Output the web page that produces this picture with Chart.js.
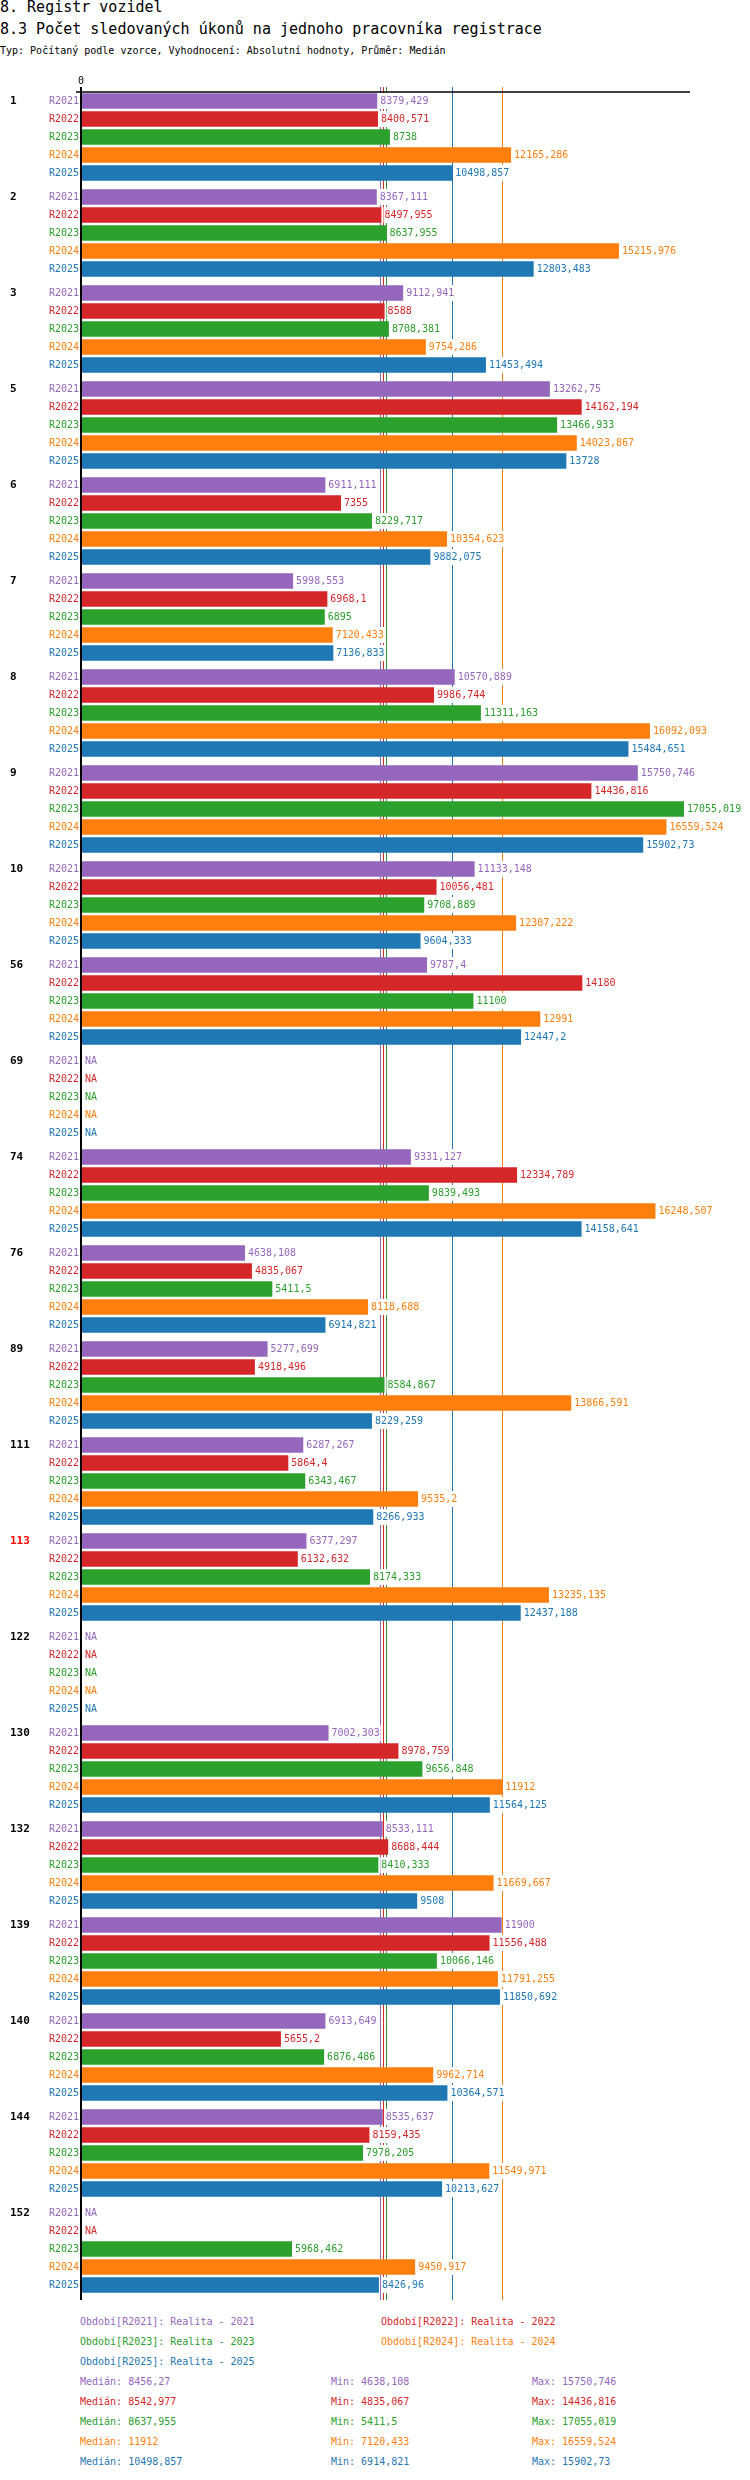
<!DOCTYPE html>
<html>
<head>
<meta charset="utf-8">
<script src="https://cdn.jsdelivr.net/npm/chart.js@4.4.1/dist/chart.umd.min.js"></script>
<style>
  body { margin: 0; background: #fff; font-family: "DejaVu Sans Mono", monospace; }
  .t { position: absolute; white-space: pre; color: #000; }
  .h1 { font-size: 15px; line-height: 15px; left: 0; }
  .sub { font-size: 10px; line-height: 12px; left: 0; }
  .leg { position: absolute; font-size: 10px; line-height: 12px; white-space: pre; }
  #wrap { position: absolute; left: 0; top: 0; width: 750px; height: 2310px; }
</style>
</head>
<body>
<div class="t h1" style="top:0px">8. Registr vozidel</div>
<div class="t h1" style="top:22px">8.3 Počet sledovaných úkonů na jednoho pracovníka registrace</div>
<div class="t sub" style="top:45px">Typ: Počítaný podle vzorce, Vyhodnocení: Absolutní hodnoty, Průměr: Medián</div>
<div id="wrap"><canvas id="chart"></canvas></div>
<div id="legend"></div>
<script>
// groups (categories) and periods
const groups = ["1", "2", "3", "5", "6", "7", "8", "9", "10", "56", "69", "74", "76", "89", "111", "113", "122", "130", "132", "139", "140", "144", "152"];
const periods = ["R2021", "R2022", "R2023", "R2024", "R2025"];
const colors = ["#9467bd", "#d62728", "#2ca02c", "#ff7f0e", "#1f77b4"];

const r2021 = [8379.429, 8367.111, 9112.941, 13262.75, 6911.111, 5998.553, 10570.889, 15750.746, 11133.148, 9787.4, null, 9331.127, 4638.108, 5277.699, 6287.267, 6377.297, null, 7002.303, 8533.111, 11900, 6913.649, 8535.637, null];
const r2022 = [8400.571, 8497.955, 8588, 14162.194, 7355, 6968.1, 9986.744, 14436.816, 10056.481, 14180, null, 12334.789, 4835.067, 4918.496, 5864.4, 6132.632, null, 8978.759, 8688.444, 11556.488, 5655.2, 8159.435, null];
const r2023 = [8738, 8637.955, 8708.381, 13466.933, 8229.717, 6895, 11311.163, 17055.019, 9708.889, 11100, null, 9839.493, 5411.5, 8584.867, 6343.467, 8174.333, null, 9656.848, 8410.333, 10066.146, 6876.486, 7978.205, 5968.462];
const r2024 = [12165.286, 15215.976, 9754.286, 14023.867, 10354.623, 7120.433, 16092.093, 16559.524, 12307.222, 12991, null, 16248.507, 8118.688, 13866.591, 9535.2, 13235.135, null, 11912, 11669.667, 11791.255, 9962.714, 11549.971, 9450.917];
const r2025 = [10498.857, 12803.483, 11453.494, 13728, 9882.075, 7136.833, 15484.651, 15902.73, 9604.333, 12447.2, null, 14158.641, 6914.821, 8229.259, 8266.933, 12437.188, null, 11564.125, 9508, 11850.692, 10364.571, 10213.627, 8426.96];

// summary values as printed under the chart
const medians = [8456.27, 8542.977, 8637.955, 11912, 10498.857];
const mins = [4638.108, 4835.067, 5411.5, 7120.433, 6914.821];
const maxs = [15750.746, 14436.816, 17055.019, 16559.524, 15902.73];

const highlighted = ["113"];

const series = [r2021, r2022, r2023, r2024, r2025];
const fmt = v => String(v).replace(".", ",");
const FONT = '"DejaVu Sans Mono", monospace';
// bars sit flush under the top axis, so the frame is drawn a bit outside the category band
const EDGE = 3;

const overlay = {
  id: "overlay",
  beforeDatasetsDraw(chart) {
    const ctx = chart.ctx, a = chart.chartArea, x = chart.scales.x;
    ctx.save();
    ctx.lineWidth = 1;
    medians.forEach((m, i) => {
      const px = Math.round(x.getPixelForValue(m)) + 0.5;
      ctx.strokeStyle = colors[i];
      ctx.beginPath();
      ctx.moveTo(px, a.top + EDGE - 5);
      ctx.lineTo(px, a.bottom + EDGE);
      ctx.stroke();
    });
    ctx.restore();
  },
  afterDatasetsDraw(chart) {
    const ctx = chart.ctx, a = chart.chartArea, x = chart.scales.x;
    const x0 = x.getPixelForValue(0);
    ctx.save();
    ctx.textBaseline = "middle";
    series.forEach((data, i) => {
      const meta = chart.getDatasetMeta(i);
      meta.data.forEach((el, j) => {
        const y = el.y;
        ctx.font = "10px " + FONT;
        ctx.fillStyle = colors[i];
        ctx.textAlign = "right";
        ctx.fillText(periods[i], x0 - 2, y);
        ctx.textAlign = "left";
        const v = data[j];
        if (v === null) {
          ctx.fillText("NA", x0 + 4, y);
        } else {
          const s = fmt(v);
          const tx = el.x + 3;
          const w = ctx.measureText(s).width;
          ctx.fillStyle = "#fff";
          ctx.fillRect(tx - 1, y - 8, w + 2, 16);
          ctx.fillStyle = colors[i];
          ctx.fillText(s, tx, y);
        }
        if (i === 0) {
          ctx.font = "bold 11px " + FONT;
          ctx.fillStyle = highlighted.includes(groups[j]) ? "#ff0000" : "#000";
          ctx.fillText(groups[j], 10, y);
        }
      });
    });
    // axes
    const top = a.top + EDGE;
    ctx.strokeStyle = "#000";
    ctx.lineWidth = 1.5;
    ctx.beginPath();
    ctx.moveTo(x0 - 5, top);
    ctx.lineTo(a.right, top);
    ctx.stroke();
    ctx.lineWidth = 2;
    ctx.beginPath();
    ctx.moveTo(x0, top - 5);
    ctx.lineTo(x0, a.bottom + EDGE);
    ctx.stroke();
    ctx.font = "10px " + FONT;
    ctx.fillStyle = "#000";
    ctx.textAlign = "center";
    ctx.fillText("0", x0, top - 11);
    ctx.restore();
  }
};

const allVals = series.flat().filter(v => v !== null);

new Chart(document.getElementById("chart"), {
  type: "bar",
  data: {
    labels: groups,
    datasets: series.map((d, i) => ({
      label: periods[i],
      data: d,
      backgroundColor: colors[i],
      borderWidth: 0,
      categoryPercentage: 0.9375,
      barPercentage: 0.87,
    })),
  },
  options: {
    indexAxis: "y",
    responsive: true,
    maintainAspectRatio: false,
    animation: false,
    layout: { padding: { top: 92 - EDGE, left: 81, right: 60, bottom: 10 + EDGE } },
    scales: {
      x: { display: false, min: 0, max: Math.max(...allVals) * 1.01 },
      y: { display: false },
    },
    plugins: { legend: { display: false }, tooltip: { enabled: false } },
  },
  plugins: [overlay],
});

// legend + summary lines
const leg = document.getElementById("legend");
function put(text, color, left, cy) {
  const d = document.createElement("div");
  d.className = "leg";
  d.style.left = left + "px";
  d.style.top = (cy - 6) + "px";
  d.style.color = color;
  d.textContent = text;
  leg.appendChild(d);
}
const legendRows = [[0, 1], [2, 3], [4]];
legendRows.forEach((row, r) => {
  row.forEach((i, c) => {
    put("Období[" + periods[i] + "]: Realita - " + periods[i].slice(1), colors[i], c === 0 ? 80 : 381, 2322 + r * 20);
  });
});
periods.forEach((p, i) => {
  const cy = 2382 + i * 20;
  put("Medián: " + fmt(medians[i]), colors[i], 80, cy);
  put("Min: " + fmt(mins[i]), colors[i], 331, cy);
  put("Max: " + fmt(maxs[i]), colors[i], 532, cy);
});
</script>
</body>
</html>
